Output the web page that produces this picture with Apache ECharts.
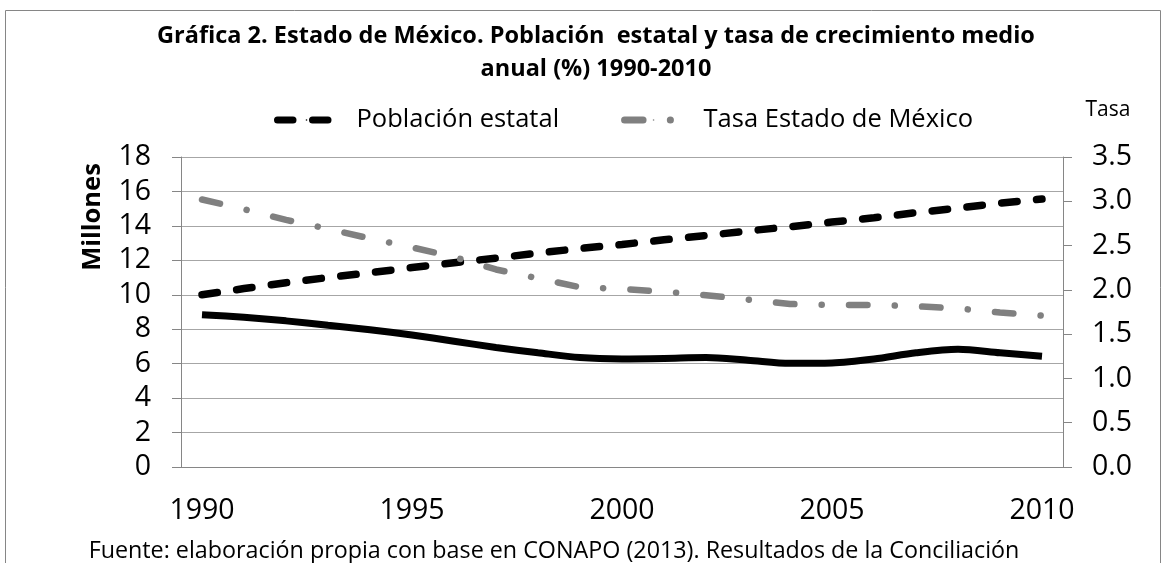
<!DOCTYPE html>
<html>
<head>
<meta charset="utf-8">
<script src="https://cdn.jsdelivr.net/npm/echarts@6/dist/echarts.min.js"></script>
<style>
  html, body { margin: 0; padding: 0; background: #fff; }
  #chart { width: 1166px; height: 563px; }
</style>
</head>
<body>
<div id="chart"></div>
<script>
// años 1990-2010
var years = ['1990','1991','1992','1993','1994','1995','1996','1997','1998','1999','2000',
             '2001','2002','2003','2004','2005','2006','2007','2008','2009','2010'];
// población estatal (millones)
var poblacion = [10.0, 10.36, 10.70, 11.0, 11.28, 11.58, 11.86, 12.13, 12.42, 12.69, 12.92,
                 13.19, 13.44, 13.71, 13.95, 14.22, 14.47, 14.77, 15.03, 15.32, 15.56];
// tasa de crecimiento Estado de México (%)
var tasaEdomex = [3.02, 2.91, 2.79, 2.69, 2.58, 2.48, 2.37, 2.23, 2.13, 2.03, 2.01,
                  1.98, 1.94, 1.89, 1.84, 1.83, 1.83, 1.815, 1.79, 1.745, 1.71];
// tasa nacional (linea continua, sin leyenda)
var tasaNacional = [1.72, 1.69, 1.65, 1.60, 1.55, 1.49, 1.42, 1.35, 1.29, 1.235, 1.22,
                    1.225, 1.235, 1.205, 1.17, 1.175, 1.22, 1.29, 1.33, 1.29, 1.25];

var font = 'Open Sans';
var axisColor = '#868686';

var myChart = echarts.init(document.getElementById('chart'));
var option = {
  animation: false,
  title: {
    text: 'Gráfica 2. Estado de México. Población  estatal y tasa de crecimiento medio\nanual (%) 1990-2010',
    left: 591,
    top: 15,
    textAlign: 'center',
    textStyle: { fontFamily: font, fontWeight: 'bold', fontSize: 23.5, lineHeight: 33, color: '#000' }
  },
  legend: {
    data: ['Población estatal', 'Tasa Estado de México'],
    left: 269,
    top: 100,
    itemWidth: 58,
    itemHeight: 2,
    itemGap: 62,
    lineStyle: { width: 7 },
    textStyle: { fontFamily: font, fontSize: 25.5, color: '#000', padding: [0, 0, 0, 16], lineHeight: 30 }
  },
  grid: { left: 181, right: 103, top: 157, bottom: 96 },
  xAxis: {
    type: 'category',
    data: years,
    boundaryGap: true,
    axisLine: { lineStyle: { color: axisColor, width: 1 } },
    axisTick: { interval: 0, length: 9, lineStyle: { color: axisColor } },
    axisLabel: { interval: 4, margin: 29, fontFamily: font, fontSize: 28.5, color: '#000' }
  },
  yAxis: [
    {
      type: 'value', min: 0, max: 18, interval: 2,
      axisLine: { show: true, lineStyle: { color: axisColor } },
      axisTick: { show: true, length: 9, lineStyle: { color: axisColor } },
      axisLabel: { margin: 30, fontFamily: font, fontSize: 28.5, color: '#000' },
      splitLine: { lineStyle: { color: '#a6a6a6', width: 1 } }
    },
    {
      type: 'value', min: 0, max: 3.5, interval: 0.5,
      axisLine: { show: true, lineStyle: { color: axisColor } },
      axisTick: { show: true, length: 9, lineStyle: { color: axisColor } },
      axisLabel: { margin: 29, fontFamily: font, fontSize: 28.5, color: '#000',
        formatter: function (v) { return v.toFixed(1); } },
      splitLine: { show: false }
    }
  ],
  graphic: [
    { type: 'rect', z: -1, shape: { x: 5.5, y: 10.5, width: 1155, height: 700 },
      style: { fill: 'none', stroke: axisColor, lineWidth: 1 } },
    { type: 'text', x: 93, y: 217, rotation: Math.PI / 2,
      style: { text: 'Millones', fontFamily: font, fontWeight: 'bold', fontSize: 25.5,
               fill: '#000', align: 'center', verticalAlign: 'middle' } },
    { type: 'text', x: 1108, y: 110,
      style: { text: 'Tasa', fontFamily: font, fontSize: 21, fill: '#000',
               align: 'center', verticalAlign: 'middle' } },
    { type: 'text', x: 554, y: 551,
      style: { text: 'Fuente: elaboración propia con base en CONAPO (2013). Resultados de la Conciliación',
               fontFamily: font, fontSize: 23.3, fill: '#000', align: 'center', verticalAlign: 'middle' } }
  ],
  series: [
    {
      name: 'Población estatal', type: 'line', yAxisIndex: 0, data: poblacion,
      symbol: 'none', color: '#000',
      lineStyle: { color: '#000', width: 7.5, type: [15.5, 19.5], cap: 'round' }
    },
    {
      name: 'Tasa Estado de México', type: 'line', yAxisIndex: 1, data: tasaEdomex,
      symbol: 'none', color: '#808080',
      lineStyle: { color: '#808080', width: 6.5, type: [18.5, 27.25, 0.1, 27.25], cap: 'round' }
    },
    {
      name: 'Tasa nacional', type: 'line', yAxisIndex: 1, data: tasaNacional,
      symbol: 'none', smooth: 0.3, color: '#000',
      lineStyle: { color: '#000', width: 7 }
    }
  ]
};
myChart.setOption(option);
</script>
</body>
</html>
